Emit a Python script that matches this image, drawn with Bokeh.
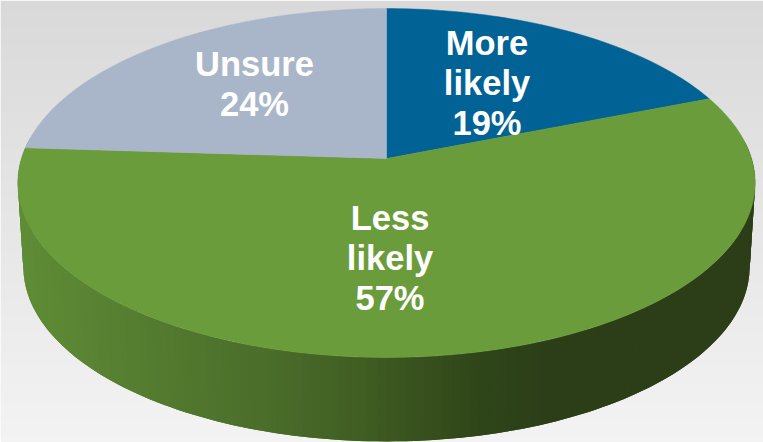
import math

from bokeh.core.properties import value
from bokeh.embed import file_html
from bokeh.models import Range1d
from bokeh.plotting import figure
from bokeh.resources import INLINE

# Survey shares, clockwise from twelve o'clock
categories = ["More likely", "Less likely", "Unsure"]
shares = [19, 57, 24]
slice_colors = ["#006295", "#6a9c3b", "#a9b6c9"]

WIDTH, HEIGHT = 763, 442

# Perspective disc: centre on screen and projection constants
CX, CY = 386.0, 158.0
A, B, K = 365.0, 171.0, 0.1404
# The base of the disc sits lower and slightly further from the viewer
DEPTH, BASE_SCALE = 84.0, 0.985


def project(theta, scale=1.0, drop=0.0):
    """Map a clockwise angle on the unit circle to screen coordinates."""
    u, v = math.sin(theta), math.cos(theta)
    w = 1 + K * v
    return CX + scale * A * u / w, CY - B * v / w + drop


def hex_rgb(c):
    return tuple(int(c[i:i + 2], 16) for i in (1, 3, 5))


def ramp(pos, stops):
    """Piecewise linear colour between (position, hex colour) stops."""
    if pos <= stops[0][0]:
        return stops[0][1]
    for (p0, c0), (p1, c1) in zip(stops, stops[1:]):
        if pos <= p1:
            t = (pos - p0) / (p1 - p0)
            a, b = hex_rgb(c0), hex_rgb(c1)
            return "#%02x%02x%02x" % tuple(round(a[i] + (b[i] - a[i]) * t) for i in range(3))
    return stops[-1][1]


backdrop_stops = [(0, "#d9d9d9"), (442, "#f3f3f3")]
wall_stops = [(20, "#5f8c36"), (267, "#4a6d2a"), (367, "#3f5c22"),
              (480, "#2f4519"), (547, "#2c3e18")]

p = figure(width=WIDTH, height=HEIGHT, output_backend="svg", toolbar_location=None,
           x_range=Range1d(0, WIDTH), y_range=Range1d(HEIGHT, 0), min_border=0)
p.axis.visible = False
p.xgrid.visible = False
p.ygrid.visible = False
p.outline_line_color = None

# Vertical backdrop gradient
rows = list(range(0, HEIGHT, 3))
row_colors = [ramp(y, backdrop_stops) for y in rows]
p.quad(left=0, right=WIDTH, top=rows, bottom=[y + 4 for y in rows],
       fill_color=row_colors, line_color=None)

# Outer wall, shaded left to right along the front of the disc.
# Each band runs a full step over its neighbour so no seams show.
steps = 150
xs, ys, cols = [], [], []
for i in range(steps):
    t0 = math.radians(84 + (276 - 84) * i / steps)
    t1 = math.radians(84 + (276 - 84) * (i + 2) / steps)
    tm = math.radians(84 + (276 - 84) * (i + 1) / steps)
    x0, y0 = project(t0)
    xm, ym = project(tm)
    x1, y1 = project(t1)
    x2, y2 = project(t1, BASE_SCALE, DEPTH)
    xn, yn = project(tm, BASE_SCALE, DEPTH)
    x3, y3 = project(t0, BASE_SCALE, DEPTH)
    xs.append([x0, xm, x1, x2, xn, x3])
    ys.append([y0, ym, y1, y2, yn, y3])
    cols.append(ramp((x0 + xm) / 2, wall_stops))
p.patches(xs, ys, fill_color=cols, line_color=None)

# Top surface slices, sized from the shares
total = sum(shares)
start = 0.0
for share, color in zip(shares, slice_colors):
    end = start + share / total * 2 * math.pi
    n = max(2, int(share * 3))
    outline = [project(start + (end - start) * j / n) for j in range(n + 1)]
    px = [CX] + [q[0] for q in outline]
    py = [CY] + [q[1] for q in outline]
    p.patch(px, py, fill_color=color, line_color=color, line_width=0.5)
    start = end

# Slice labels, one word per line with the share last
label_centers = [(486.5, 42), (389.5, 217), (254, 63.5)]
label_lines = [["More", "likely"], ["Less", "likely"], ["Unsure"]]
for (lx, first_base), words, share in zip(label_centers, label_lines, shares):
    lines = words + [f"{share}%"]
    spacing = 40
    p.text(x=[lx] * len(lines), y=[first_base + spacing * i for i in range(len(lines))],
           text=lines, text_color="#ffffff", text_font=value("Liberation Sans"),
           text_font_style="bold", text_font_size="34.5px",
           text_align="center", text_baseline="alphabetic")

open("out.html", "w").write(file_html(p, INLINE))
